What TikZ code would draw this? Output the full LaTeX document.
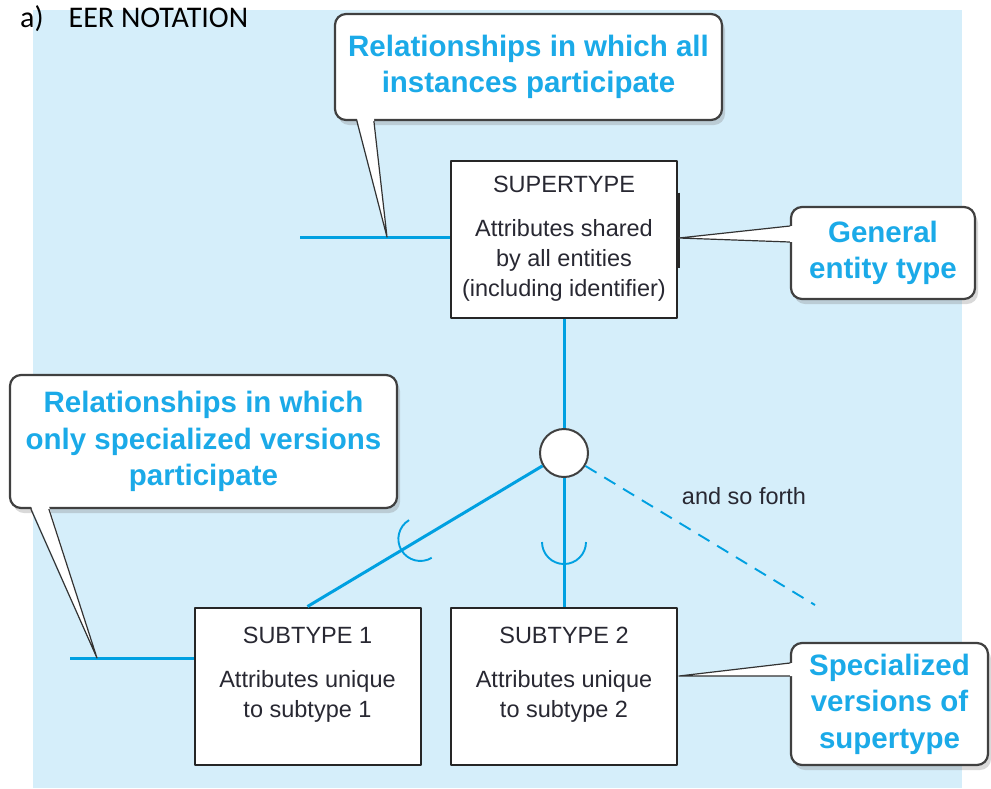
\documentclass[tikz,border=0pt]{standalone}
\usepackage{fontspec}
\setmainfont{Liberation Sans}
\newfontfamily\headfont{Carlito}
\usetikzlibrary{shadows}
\definecolor{eerblue}{RGB}{0,160,225}
\definecolor{calloutblue}{RGB}{27,170,232}
\definecolor{panelblue}{RGB}{213,238,250}
\definecolor{boxtext}{RGB}{40,40,50}

\begin{document}
\begin{tikzpicture}[x=1pt, y=-1pt, line join=round,
        entity_style/.style={draw=black!85, line width=2pt, fill=white, align=center, minimum width=226pt, minimum height=157pt, text=boxtext, font=\fontsize{23.5}{30}\selectfont},
        callout_style/.style={draw=black!75, line width=2.2pt, fill=white, rounded corners=11pt, align=center, text=calloutblue, font=\fontsize{29.5}{36.5}\selectfont\bfseries, drop shadow={shadow xshift=3pt, shadow yshift=-5pt, opacity=0.3}},
        circle_style/.style={circle, draw=black!75, line width=2pt, fill=white, minimum size=48pt, inner sep=0pt},
        link_style/.style={draw=eerblue, line width=3pt},
        more_link_style/.style={draw=eerblue, line width=1.9pt, dash pattern=on 13pt off 9pt},
        cup_style/.style={draw=eerblue, line width=1.9pt},
        pointer_style/.style={draw=black!80, line width=1.2pt}]

        \useasboundingbox (0,0) rectangle (991,788);

        \fill [panelblue] (33,10) rectangle (962,788);

        \node [anchor=base west, inner sep=0pt, font=\headfont\fontsize{30}{34}\selectfont](title) at (20,27) {a)\hspace{25pt}EER NOTATION};

        \node [entity_style](supertype) at (564,239) {SUPERTYPE\\[14pt]Attributes shared\\by all entities\\(including identifier)};

        \node [entity_style](subtype_one) at (307.5,686) {SUBTYPE 1\\[14pt]Attributes unique\\to subtype 1\\[-12pt]\strut};

        \node [entity_style](subtype_two) at (564,686) {SUBTYPE 2\\[14pt]Attributes unique\\to subtype 2\\[-12pt]\strut};

        \node [circle_style](gen_circle) at (564,453) {};

        \node [text=boxtext, font=\fontsize{23.5}{30}\selectfont](so_forth) at (744,496) {and so forth};

        \coordinate (all_end) at (300,237);
        \coordinate (all_tip) at (387,237);
        \coordinate (special_end) at (70,658);
        \coordinate (special_tip) at (97,658);
        \coordinate (general_tip) at (679,238);
        \coordinate (versions_tip) at (679,676);
        \coordinate (more_end) at (815,605);

        \draw [link_style] (all_end) -- (supertype.west |- all_end);

        \draw [link_style] (special_end) -- (subtype_one.west |- special_end);

        \draw [link_style] (supertype) -- (gen_circle);

        \draw [link_style] (gen_circle) -- (subtype_two);

        \draw [link_style] (gen_circle) -- (subtype_one.north);

        \draw [more_link_style] (gen_circle) -- (more_end);

        \path (gen_circle.center) -- (subtype_one.north) coordinate[pos=0.56] (cup_one);
        \path (gen_circle.center) -- (subtype_two.north) coordinate[pos=0.58] (cup_two);

        \draw [cup_style] ([shift={(121:22pt)}]cup_one) arc[start angle=121, end angle=301, radius=22pt];

        \draw [cup_style] ([shift={(180:22pt)}]cup_two) arc[start angle=180, end angle=360, radius=22pt];

        \draw [line width=3.5pt, black!85] ([yshift=-33pt]supertype.north east) -- ([yshift=-108pt]supertype.north east);

        \node [callout_style, minimum width=387pt, minimum height=106pt](call_all) at (528.5,67) {Relationships in which all\\instances participate};
        \fill [white] ([xshift=23pt,yshift=3pt]call_all.south west) -- (all_tip) -- ([xshift=40pt,yshift=3pt]call_all.south west) -- cycle;
        \draw [pointer_style] ([xshift=23pt]call_all.south west) -- (all_tip) -- ([xshift=40pt]call_all.south west);

        \node [callout_style, minimum width=184pt, minimum height=92pt](call_general) at (883,253) {General\\entity type};
        \fill [white] ([xshift=3pt,yshift=27pt]call_general.west) -- (general_tip) -- ([xshift=3pt,yshift=11pt]call_general.west) -- cycle;
        \draw [pointer_style] ([yshift=27pt]call_general.west) -- (general_tip) -- ([yshift=11pt]call_general.west);

        \node [callout_style, minimum width=387pt, minimum height=133pt](call_special) at (203.5,441.5) {Relationships in which\\only specialized versions\\participate};
        \fill [white] ([xshift=22pt,yshift=3pt]call_special.south west) -- (special_tip) -- ([xshift=40pt,yshift=3pt]call_special.south west) -- cycle;
        \draw [pointer_style] ([xshift=22pt]call_special.south west) -- (special_tip) -- ([xshift=40pt]call_special.south west);

        \node [callout_style, minimum width=197pt, minimum height=122pt](call_versions) at (889.5,704) {Specialized\\versions of\\supertype};
        \fill [white] ([xshift=3pt,yshift=41pt]call_versions.west) -- (versions_tip) -- ([xshift=3pt,yshift=28pt]call_versions.west) -- cycle;
        \draw [pointer_style] ([yshift=41pt]call_versions.west) -- (versions_tip) -- ([yshift=28pt]call_versions.west);

\end{tikzpicture}
\end{document}
